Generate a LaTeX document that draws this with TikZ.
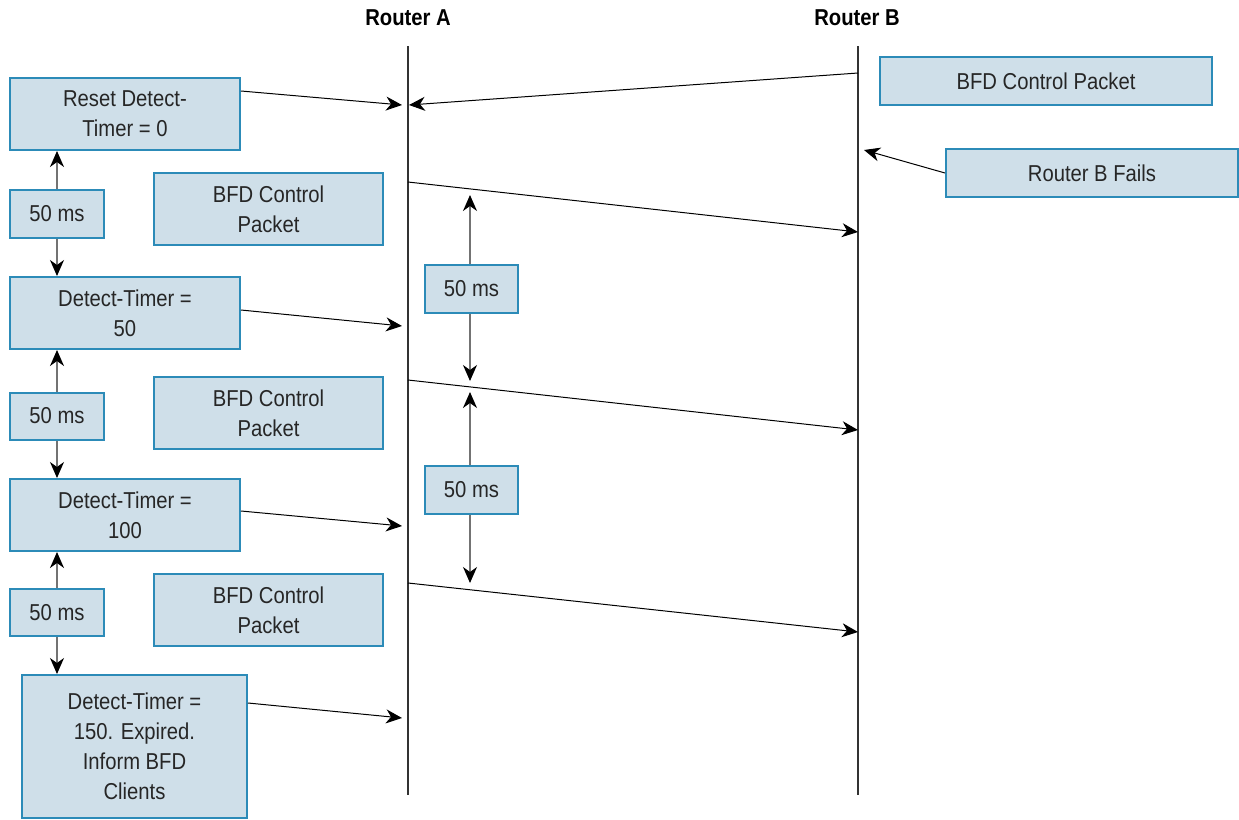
\documentclass[tikz,border=0pt]{standalone}
\usepackage{fontspec}
\setmainfont{Liberation Sans}[FakeStretch=0.88]
\usetikzlibrary{arrows.meta}
\definecolor{boxfill}{HTML}{CFDFE9}
\definecolor{boxline}{HTML}{2C8BB8}
\definecolor{life}{HTML}{333333}
\tikzset{
  box/.style={draw=boxline, fill=boxfill, line width=1pt, inner sep=0pt, align=center,
    text=black!85, font=\fontsize{11.5}{15}\selectfont},
  lifeline/.style={draw=life, line width=1pt},
  msg/.style={draw=black, line width=0.5pt, -{Stealth[length=8pt,width=7pt,inset=2.5pt]}},
  tim/.style={draw=black!55, line width=0.6pt, -{Stealth[length=8pt,width=7pt,inset=2.5pt,color=black]}},
  rlabel/.style={font=\fontsize{11.5}{14}\selectfont\bfseries}
}
\begin{document}
\begin{tikzpicture}[x=0.5pt,y=-0.5pt]
\useasboundingbox (0,0) rectangle (1239,820);
% routers
\node[rlabel] (ra) at (408,18) {Router A};
\node[rlabel] (rb) at (857,18) {Router B};
\coordinate (a0) at (408,46); \coordinate (a1) at (408,795);
\coordinate (b0) at (858,46); \coordinate (b1) at (858,795);
\draw[lifeline] (a0) -- (a1);
\draw[lifeline] (b0) -- (b1);
% left boxes
\node[box, minimum width=115pt, minimum height=36pt] (reset) at (125,114) {Reset Detect-\\Timer = 0};
\node[box, minimum width=47pt, minimum height=24pt] (ms1) at (57,214) {50 ms};
\node[box, minimum width=114.5pt, minimum height=36pt] (bfd1) at (268.5,209) {BFD Control\\Packet};
\node[box, minimum width=115pt, minimum height=36pt] (dt50) at (125,313) {Detect-Timer =\\50};
\node[box, minimum width=47pt, minimum height=23.5pt] (ms2) at (57,416) {50 ms};
\node[box, minimum width=114.5pt, minimum height=36pt] (bfd2) at (268.5,413) {BFD Control\\Packet};
\node[box, minimum width=115pt, minimum height=36pt] (dt100) at (125,515) {Detect-Timer =\\100};
\node[box, minimum width=47pt, minimum height=23.5pt] (ms3) at (57,612.5) {50 ms};
\node[box, minimum width=114.5pt, minimum height=36pt] (bfd3) at (268.5,610) {BFD Control\\Packet};
\node[box, minimum width=112.5pt, minimum height=71.5pt] (dt150) at (134.5,746.5) {Detect-Timer =\\150. Expired.\\Inform BFD\\Clients};
% right boxes
\node[box, minimum width=166pt, minimum height=24pt] (bfdB) at (1046,81) {BFD Control Packet};
\node[box, minimum width=146pt, minimum height=24pt] (fail) at (1092,173) {Router B Fails};
% middle timing boxes
\node[box, minimum width=46.5pt, minimum height=24pt] (msA1) at (471.5,289) {50 ms};
\node[box, minimum width=46.5pt, minimum height=24pt] (msA2) at (471.5,489.5) {50 ms};
% message coordinates
\coordinate (resetTip) at (402,105);
\coordinate (bStart) at (858,73);
\coordinate (bTip) at (409,105);
\coordinate (failTip) at (864,150);
\coordinate (m1s) at (408,182); \coordinate (m1e) at (858,232);
\coordinate (m2s) at (408,380); \coordinate (m2e) at (858,430);
\coordinate (m3s) at (408,583); \coordinate (m3e) at (858,632);
\coordinate (dt50Tip) at (402,326);
\coordinate (dt100Tip) at (402,526);
\coordinate (dt150Tip) at (402,718);
% messages
\draw[msg] (reset.north east |- 0,91) -- (resetTip);
\draw[msg] (bStart) -- (bTip);
\draw[msg] (fail.west) -- (failTip);
\draw[msg] (m1s) -- (m1e);
\draw[msg] (m2s) -- (m2e);
\draw[msg] (m3s) -- (m3e);
\draw[msg] (dt50.east |- 0,310) -- (dt50Tip);
\draw[msg] (dt100.east |- 0,511) -- (dt100Tip);
\draw[msg] (dt150.east |- 0,703) -- (dt150Tip);
% left timing arrows
\draw[tim] (ms1.north) -- (ms1.north |- reset.south);
\draw[tim] (ms1.south) -- (ms1.south |- dt50.north);
\draw[tim] (ms2.north) -- (ms2.north |- dt50.south);
\draw[tim] (ms2.south) -- (ms2.south |- dt100.north);
\draw[tim] (ms3.north) -- (ms3.north |- dt100.south);
\draw[tim] (ms3.south) -- (ms3.south |- dt150.north);
% middle timing arrows
\coordinate (t1) at (470,195); \coordinate (t2) at (470,381);
\coordinate (t3) at (470,392); \coordinate (t4) at (470,583);
\draw[tim] (msA1.north -| t1) -- (t1);
\draw[tim] (msA1.south -| t2) -- (t2);
\draw[tim] (msA2.north -| t3) -- (t3);
\draw[tim] (msA2.south -| t4) -- (t4);
\end{tikzpicture}
\end{document}
